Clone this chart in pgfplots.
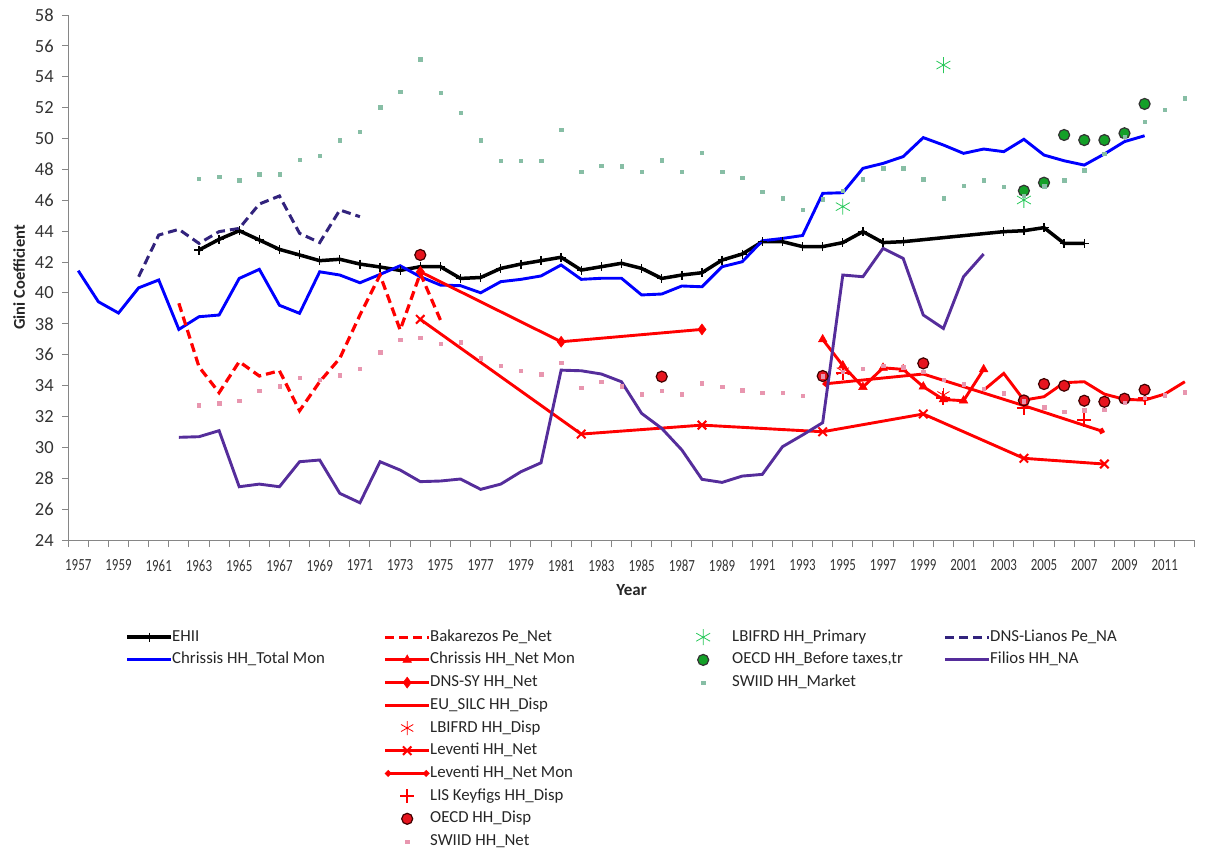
\documentclass[border=0pt]{standalone}
\usepackage{fontspec}
\setmainfont{Carlito}
\newfontfamily\condfont[FakeStretch=0.76]{Carlito}
\usepackage{pgfplots}
\pgfplotsset{compat=1.18}
\usetikzlibrary{arrows.meta}
\definecolor{myblue}{RGB}{0,0,255}
\definecolor{myred}{RGB}{255,0,0}
\definecolor{lianos}{RGB}{50,35,125}
\definecolor{filios}{RGB}{85,45,155}
\definecolor{swiidnet}{RGB}{232,150,175}
\definecolor{swiidmkt}{RGB}{135,190,165}
\definecolor{lbigreen}{RGB}{40,200,90}
\definecolor{oecdgreen}{RGB}{20,160,40}
\definecolor{axisgray}{RGB}{134,134,134}
\definecolor{oecdred}{RGB}{230,20,30}
\tikzset{
 s-ehii/.style={black, line width=3.5bp, mark=+, mark size=4.5bp, mark options={solid, line width=1.3bp}},
 s-chtot/.style={myblue, line width=2.9bp},
 s-bak/.style={myred, line width=3.2bp, dash pattern=on 9bp off 5bp},
 s-chnet/.style={myred, line width=2.9bp, mark=triangle*, mark size=5bp, mark options={solid, line width=0.5bp}},
 s-dnssy/.style={myred, line width=2.9bp, mark=diamond*, mark size=5.5bp, mark options={solid, line width=0.5bp}},
 s-eusilc/.style={myred, line width=2.9bp},
 s-lbidisp/.style={myred, mark=asterisk, mark size=7bp, mark options={solid, line width=0.8bp}},
 s-levnet/.style={myred, line width=2.9bp, mark=x, mark size=6bp, mark options={solid, line width=2bp}},
 s-levmon/.style={myred, line width=2.9bp, arrows={Circle[length=6bp]-Circle[length=6bp]}},
 s-lis/.style={myred, mark=+, mark size=7bp, mark options={solid, line width=2bp}},
 s-oecdd/.style={black, mark=*, mark size=5.5bp, mark options={solid, fill=oecdred, draw=black!75!red, line width=1.2bp}},
 s-swnet/.style={swiidnet, mark=square*, mark size=1.7bp, mark options={solid, draw=swiidnet, fill=swiidnet}},
 s-lbiprim/.style={lbigreen, mark=asterisk, mark size=8bp, mark options={solid, line width=0.8bp}},
 s-oecdb/.style={black, mark=*, mark size=5.5bp, mark options={solid, fill=oecdgreen, draw=black!80, line width=1.2bp}},
 s-swmkt/.style={swiidmkt, mark=square*, mark size=1.7bp, mark options={solid, draw=swiidmkt, fill=swiidmkt}},
 s-lianos/.style={lianos, line width=3bp, dash pattern=on 9bp off 5bp},
 s-filios/.style={filios, line width=2.9bp},
}
\pgfplotsset{
 legend image code/.code={\pgfpathrectangle{\pgfpoint{0bp}{-5bp}}{\pgfpoint{44bp}{10bp}}\pgfusepath{use as bounding box}\draw[mark repeat=2,mark phase=2,#1] plot coordinates {(0bp,0bp) (22bp,0bp) (44bp,0bp)};},
}
\begin{document}
\begin{tikzpicture}
\begin{axis}[
  scale only axis, width=1126.7bp, height=525bp,
  xmin=1956.5, xmax=2012.5, ymin=24, ymax=58,
  axis x line*=bottom, axis y line*=left,
  axis line style={axisgray, line width=1bp},
  tick style={axisgray, line width=1bp},
  tick align=outside,
  major tick length=6bp, minor tick length=7bp,
  xtick={1957,1959,...,2011},
  major x tick style={draw=none},
  minor xtick={1956.5,1957.5,...,2012.5},
  ytick={24,26,...,58},
  /pgf/number format/1000 sep={},
  /pgf/number format/assume math mode=true,
  yticklabel style={font=\fontsize{18.5bp}{21bp}\selectfont, text=black!80, xshift=-5bp},
  xticklabel style={font=\condfont\fontsize{17bp}{20bp}\selectfont, text=black!80, yshift=-10bp},
  xlabel={Year}, ylabel={Gini Coefficient},
  xlabel style={font=\bfseries\fontsize{17bp}{20bp}\selectfont, text=black!85, at={(axis description cs:0.5,0)}, anchor=center, yshift=-50bp},
  ylabel style={font=\bfseries\fontsize{16.5bp}{19bp}\selectfont, text=black!85, at={(axis description cs:0,0.5)}, anchor=center, yshift=49bp},
  clip=false,
  legend columns=4,
  legend cell align=left,
  legend style={at={(axis description cs:0,0)}, anchor=north west, xshift=58.8bp, yshift=-89bp, draw=none, fill=none, font=\fontsize{16.8bp}{19bp}\selectfont, text=black!85, row sep=6.7bp, inner sep=0pt, nodes={inner sep=1bp, text height=11bp, text depth=3bp}},
]
\coordinate (sw) at (rel axis cs:0,0);
% EHII
\addplot[s-ehii, forget plot] coordinates {(1963,42.78)(1964,43.47)(1965,44.03)(1966,43.43)(1967,42.82)(1968,42.46)(1969,42.09)(1970,42.18)(1971,41.87)(1972,41.68)(1973,41.46)(1974,41.70)(1975,41.70)(1976,40.94)(1977,41.00)(1978,41.59)(1979,41.87)(1980,42.09)(1981,42.31)(1982,41.48)(1983,41.70)(1984,41.92)(1985,41.59)(1986,40.94)(1987,41.16)(1988,41.31)(1989,42.13)(1990,42.52)(1991,43.32)(1992,43.32)(1993,43.00)(1994,43.00)(1995,43.26)(1996,43.97)(1997,43.26)(1998,43.32)(2003,43.97)(2004,44.03)(2005,44.23)(2006,43.21)(2007,43.21)};
% Chrissis HH_Total Mon
\addplot[s-chtot, forget plot] coordinates {(1957,41.44)(1958,39.43)(1959,38.70)(1960,40.33)(1961,40.84)(1962,37.64)(1963,38.46)(1964,38.57)(1965,40.94)(1966,41.53)(1967,39.20)(1968,38.68)(1969,41.37)(1970,41.16)(1971,40.66)(1972,41.20)(1973,41.76)(1974,41.05)(1975,40.51)(1976,40.47)(1977,40.01)(1978,40.73)(1979,40.88)(1980,41.10)(1981,41.81)(1982,40.88)(1983,40.95)(1984,40.95)(1985,39.87)(1986,39.93)(1987,40.45)(1988,40.40)(1989,41.70)(1990,42.02)(1991,43.38)(1992,43.53)(1993,43.72)(1994,46.45)(1995,46.49)(1996,48.07)(1997,48.39)(1998,48.83)(1999,50.06)(2000,49.58)(2001,49.04)(2002,49.32)(2003,49.15)(2004,49.95)(2005,48.93)(2006,48.56)(2007,48.28)(2008,49.00)(2009,49.80)(2010,50.18)};
% Bakarezos Pe_Net
\addplot[s-bak, forget plot] coordinates {(1962,39.33)(1963,35.22)(1964,33.54)(1965,35.55)(1966,34.62)(1967,34.96)(1968,32.37)(1969,34.25)(1970,35.77)(1971,38.57)(1972,41.16)(1973,37.60)(1974,41.27)(1975,38.25)};
% Chrissis HH_Net Mon
\addplot[s-chnet, forget plot] coordinates {(1994,36.99)(1995,35.30)(1996,33.90)(1997,35.15)(1998,35.05)(1999,33.93)(2000,33.10)(2001,33.02)(2002,35.05)};
% DNS-SY HH_Net
\addplot[s-dnssy, forget plot] coordinates {(1974,41.37)(1981,36.84)(1988,37.64)};
% EU_SILC HH_Disp
\addplot[s-eusilc, forget plot] coordinates {(2002,33.70)(2003,34.79)(2004,33.06)(2005,33.28)(2006,34.19)(2007,34.25)(2008,33.45)(2009,33.11)(2010,33.06)(2011,33.45)(2012,34.25)};
% LBIFRD HH_Disp
\addplot[only marks, s-lbidisp, forget plot] coordinates {(1995,34.93)(2000,33.39)};
% Leventi HH_Net
\addplot[s-levnet, forget plot] coordinates {(1974,38.29)(1982,30.86)(1988,31.44)(1994,31.01)(1999,32.16)(2004,29.29)(2008,28.92)};
% Leventi HH_Net Mon
\addplot[s-levmon, forget plot] coordinates {(1994,34.10)(1999,34.75)(2004,32.70)(2008,31.00)};
% LIS Keyfigs HH_Disp
\addplot[only marks, s-lis, forget plot] coordinates {(1995,34.80)(2000,33.20)(2004,32.52)(2007,31.77)(2010,33.17)};
% OECD HH_Disp
\addplot[only marks, s-oecdd, forget plot] coordinates {(1974,42.46)(1986,34.58)(1994,34.62)(1999,35.44)(2004,33.04)(2005,34.10)(2006,33.99)(2007,33.02)(2008,32.95)(2009,33.15)(2010,33.73)};
% SWIID HH_Net
\addplot[only marks, s-swnet, forget plot] coordinates {(1963,32.74)(1964,32.85)(1965,33.02)(1966,33.65)(1967,33.97)(1968,34.53)(1969,34.40)(1970,34.68)(1971,35.10)(1972,36.16)(1973,36.97)(1974,37.10)(1975,36.70)(1976,36.80)(1977,35.77)(1978,35.27)(1979,34.96)(1980,34.73)(1981,35.48)(1982,33.88)(1983,34.25)(1984,33.97)(1985,33.45)(1986,33.65)(1987,33.45)(1988,34.15)(1989,33.93)(1990,33.71)(1991,33.54)(1992,33.54)(1993,33.36)(1994,34.60)(1995,34.90)(1996,35.10)(1997,35.30)(1998,35.20)(1999,34.90)(2000,34.40)(2001,34.10)(2002,33.80)(2003,33.50)(2004,33.00)(2005,32.60)(2006,32.30)(2007,32.40)(2008,32.42)(2009,32.90)(2010,33.20)(2011,33.39)(2012,33.58)};
% LBIFRD HH_Primary
\addplot[only marks, s-lbiprim, forget plot] coordinates {(1995,45.59)(2000,54.76)(2004,46.02)};
% OECD HH_Before taxes,tr
\addplot[only marks, s-oecdb, forget plot] coordinates {(2004,46.62)(2005,47.14)(2006,50.23)(2007,49.90)(2008,49.90)(2009,50.34)(2010,52.24)};
% SWIID HH_Market
\addplot[only marks, s-swmkt, forget plot] coordinates {(1963,47.38)(1964,47.53)(1965,47.31)(1966,47.70)(1967,47.70)(1968,48.61)(1969,48.87)(1970,49.90)(1971,50.44)(1972,52.02)(1973,53.03)(1974,55.13)(1975,52.97)(1976,51.67)(1977,49.90)(1978,48.56)(1979,48.56)(1980,48.56)(1981,50.59)(1982,47.85)(1983,48.24)(1984,48.20)(1985,47.85)(1986,48.60)(1987,47.85)(1988,49.08)(1989,47.85)(1990,47.47)(1991,46.56)(1992,46.13)(1993,45.41)(1994,46.07)(1995,46.62)(1996,47.36)(1997,48.07)(1998,48.07)(1999,47.36)(2000,46.13)(2001,46.93)(2002,47.31)(2003,46.89)(2004,46.30)(2005,46.90)(2006,47.31)(2007,47.96)(2008,49.00)(2009,50.10)(2010,51.09)(2011,51.85)(2012,52.60)};
% DNS-Lianos Pe_NA
\addplot[s-lianos, forget plot] coordinates {(1960,41.05)(1961,43.75)(1962,44.12)(1963,43.21)(1964,43.97)(1965,44.18)(1966,45.76)(1967,46.28)(1968,43.86)(1969,43.26)(1970,45.37)(1971,44.94)};
% Filios HH_NA
\addplot[s-filios, forget plot] coordinates {(1962,30.65)(1963,30.69)(1964,31.08)(1965,27.45)(1966,27.62)(1967,27.45)(1968,29.07)(1969,29.18)(1970,27.02)(1971,26.41)(1972,29.07)(1973,28.53)(1974,27.78)(1975,27.82)(1976,27.95)(1977,27.28)(1978,27.62)(1979,28.42)(1980,29.00)(1981,35.00)(1982,34.96)(1983,34.75)(1984,34.25)(1985,32.20)(1986,31.23)(1987,29.83)(1988,27.93)(1989,27.73)(1990,28.14)(1991,28.25)(1992,30.04)(1993,30.80)(1994,31.60)(1995,41.16)(1996,41.05)(1997,42.89)(1998,42.24)(1999,38.57)(2000,37.70)(2001,41.05)(2002,42.52)};
% Legend (row-major, 4 columns)
\addlegendimage{s-ehii}\addlegendentry{\makebox[212bp][l]{EHII}}
\addlegendimage{s-bak}\addlegendentry{\makebox[250bp][l]{Bakarezos Pe\_Net}}
\addlegendimage{/tikz/only marks,s-lbiprim}\addlegendentry{\makebox[218bp][l]{\hspace{6bp}LBIFRD HH\_Primary}}
\addlegendimage{s-lianos}\addlegendentry{DNS-Lianos Pe\_NA}
\addlegendimage{s-chtot}\addlegendentry{Chrissis HH\_Total Mon}
\addlegendimage{s-chnet}\addlegendentry{Chrissis HH\_Net Mon}
\addlegendimage{/tikz/only marks,s-oecdb}\addlegendentry{\hspace{6bp}OECD HH\_Before taxes,tr}
\addlegendimage{s-filios}\addlegendentry{Filios HH\_NA}
\addlegendimage{empty legend}\addlegendentry{}
\addlegendimage{s-dnssy}\addlegendentry{DNS-SY HH\_Net}
\addlegendimage{/tikz/only marks,s-swmkt}\addlegendentry{\hspace{6bp}SWIID HH\_Market}
\addlegendimage{empty legend}\addlegendentry{}
\addlegendimage{empty legend}\addlegendentry{}
\addlegendimage{s-eusilc}\addlegendentry{EU\_SILC HH\_Disp}
\addlegendimage{empty legend}\addlegendentry{}
\addlegendimage{empty legend}\addlegendentry{}
\addlegendimage{empty legend}\addlegendentry{}
\addlegendimage{/tikz/only marks,s-lbidisp}\addlegendentry{LBIFRD HH\_Disp}
\addlegendimage{empty legend}\addlegendentry{}
\addlegendimage{empty legend}\addlegendentry{}
\addlegendimage{empty legend}\addlegendentry{}
\addlegendimage{s-levnet}\addlegendentry{Leventi HH\_Net}
\addlegendimage{empty legend}\addlegendentry{}
\addlegendimage{empty legend}\addlegendentry{}
\addlegendimage{empty legend}\addlegendentry{}
\addlegendimage{s-levmon}\addlegendentry{Leventi HH\_Net Mon}
\addlegendimage{empty legend}\addlegendentry{}
\addlegendimage{empty legend}\addlegendentry{}
\addlegendimage{empty legend}\addlegendentry{}
\addlegendimage{/tikz/only marks,s-lis}\addlegendentry{LIS Keyfigs HH\_Disp}
\addlegendimage{empty legend}\addlegendentry{}
\addlegendimage{empty legend}\addlegendentry{}
\addlegendimage{empty legend}\addlegendentry{}
\addlegendimage{/tikz/only marks,s-oecdd}\addlegendentry{OECD HH\_Disp}
\addlegendimage{empty legend}\addlegendentry{}
\addlegendimage{empty legend}\addlegendentry{}
\addlegendimage{empty legend}\addlegendentry{}
\addlegendimage{/tikz/only marks,s-swnet}\addlegendentry{SWIID HH\_Net}
\end{axis}
\path (sw) ++(-68.2bp,-316bp) rectangle ++(1206bp,856bp);
\end{tikzpicture}
\end{document}
